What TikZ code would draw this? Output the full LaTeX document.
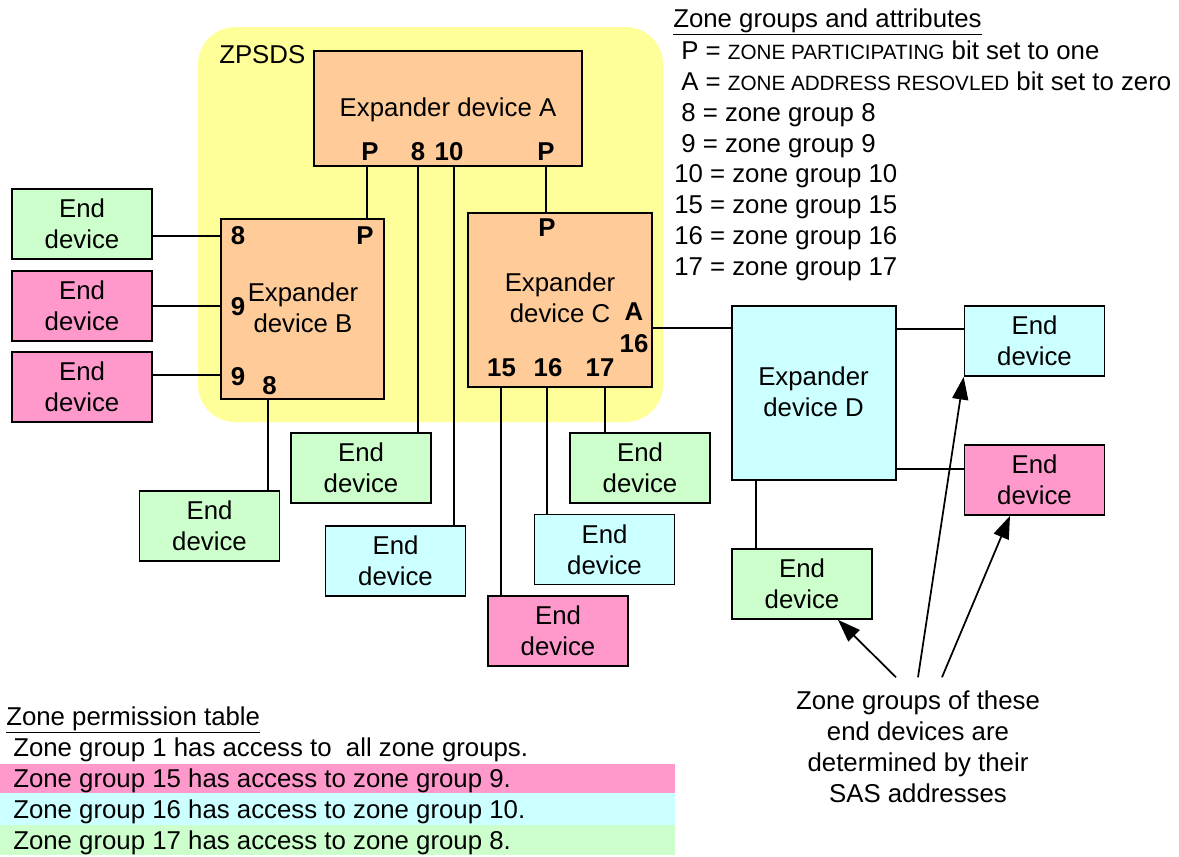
\documentclass[tikz,border=0pt]{standalone}
\usepackage{fontspec}
\setmainfont{Liberation Sans}
\usetikzlibrary{arrows.meta,calc}
\definecolor{yel}{HTML}{FFFF99}
\definecolor{ora}{HTML}{FFCC99}
\definecolor{grn}{HTML}{CCFFCC}
\definecolor{pnk}{HTML}{FF99CC}
\definecolor{cyn}{HTML}{CCFFFF}
\newcommand{\smc}[1]{{\fontsize{15.5}{18}\selectfont #1}}
\begin{document}
\begin{tikzpicture}[x=0.75pt,y=-0.75pt,
  font=\fontsize{19.35}{23.25}\selectfont,
  box/.style={draw=black, line width=1.3pt, inner sep=0pt, align=center},
  enddev/.style={box, minimum width=105pt, minimum height=52.5pt},
  expander/.style={box, fill=ora},
  plain/.style={inner sep=0pt, align=center},
  lbl/.style={inner sep=0pt, font=\fontsize{19.35}{23.25}\selectfont\bfseries},
  conn/.style={line width=1.3pt},
  txt/.style={inner sep=0pt, anchor=base west},
  callout/.style={line width=1.3pt, -{Triangle[length=17pt,width=12pt]}}]
\useasboundingbox (0,0) rectangle (1179,857);

% ZPSDS area
\fill[yel, rounded corners=28pt] (198,27) rectangle (663,422);
\node[inner sep=0pt, anchor=west] (zpsds) at (219,55) {ZPSDS};

% expanders
\node[expander, minimum width=201pt, minimum height=86.25pt] (A) at (448,108.5) {};
\node[plain] (Atxt) at (448,110) {Expander device A};
\node[expander, minimum width=122.25pt, minimum height=135pt] (B) at (302.5,309) {};
\node[plain] (Btxt) at (303,308) {Expander\\device B};
\node[expander, minimum width=138pt, minimum height=130.5pt] (C) at (560,300) {};
\node[plain] (Ctxt) at (560,298) {Expander\\device C};
\node[box, fill=cyn, minimum width=123pt, minimum height=130.5pt] (D) at (814,393) {};
\node[plain] (Dtxt) at (813.5,392) {Expander\\device D};

% port labels
\node[lbl] (aP1) at (370,152) {P};
\node[lbl] (a8) at (418,152) {8};
\node[lbl] (a10) at (449,152) {10};
\node[lbl] (aP2) at (546,152) {P};
\node[lbl] (b8) at (238,236) {8};
\node[lbl] (bP) at (365,236) {P};
\node[lbl] (b9a) at (238,307) {9};
\node[lbl] (b9b) at (238,377) {9};
\node[lbl] (b8b) at (269.5,386) {8};
\node[lbl] (cP) at (547,228) {P};
\node[lbl] (cA) at (634,312) {A};
\node[lbl] (c16r) at (634,343.5) {16};
\node[lbl] (c15) at (501.5,368) {15};
\node[lbl] (c16) at (548,368) {16};
\node[lbl] (c17) at (600,368) {17};

% end devices
\node[enddev, fill=grn] (eL1) at (82,224) {End\\device};
\node[enddev, fill=pnk] (eL2) at (82,306) {End\\device};
\node[enddev, fill=pnk] (eL3) at (82,387) {End\\device};
\node[enddev, fill=grn] (eB8) at (209.5,526) {End\\device};
\node[enddev, fill=grn] (eA8) at (361,468) {End\\device};
\node[enddev, fill=cyn] (eA10) at (395.5,561) {End\\device};
\node[enddev, fill=pnk] (eC15) at (558,631) {End\\device};
\node[enddev, fill=cyn] (eC16) at (604.5,549.5) {End\\device};
\node[enddev, fill=grn] (eC17) at (640,468) {End\\device};
\node[enddev, fill=cyn] (eD1) at (1034.5,341) {End\\device};
\node[enddev, fill=pnk] (eD2) at (1034.5,480) {End\\device};
\node[enddev, fill=grn] (eD3) at (802,584) {End\\device};

% guide coordinates
\coordinate (x367) at (367,0);
\coordinate (x418) at (418,0);
\coordinate (x454) at (454,0);
\coordinate (x546) at (546,0);
\coordinate (x268) at (268,0);
\coordinate (x501) at (501,0);
\coordinate (x547) at (547,0);
\coordinate (x605) at (605,0);
\coordinate (x756) at (756,0);
\coordinate (y236) at (0,236);
\coordinate (y306) at (0,306);
\coordinate (y375) at (0,375);
\coordinate (y328) at (0,328);
\coordinate (y329) at (0,329);
\coordinate (y469) at (0,469);

% connectors
\draw[conn] (A.south -| x367) -- (B.north -| x367);
\draw[conn] (A.south -| x418) -- (eA8.north -| x418);
\draw[conn] (A.south -| x454) -- (eA10.north -| x454);
\draw[conn] (A.south -| x546) -- (C.north -| x546);
\draw[conn] (B.west |- y236) -- (eL1.east |- y236);
\draw[conn] (B.west |- y306) -- (eL2.east |- y306);
\draw[conn] (B.west |- y375) -- (eL3.east |- y375);
\draw[conn] (B.south -| x268) -- (eB8.north -| x268);
\draw[conn] (C.south -| x501) -- (eC15.north -| x501);
\draw[conn] (C.south -| x547) -- (eC16.north -| x547);
\draw[conn] (C.south -| x605) -- (eC17.north -| x605);
\draw[conn] (C.east |- y328) -- (D.west |- y328);
\draw[conn] (D.east |- y329) -- (eD1.west |- y329);
\draw[conn] (D.east |- y469) -- (eD2.west |- y469);
\draw[conn] (D.south -| x756) -- (eD3.north -| x756);

% callout
\node[plain] (note) at (918,746.5) {Zone groups of these\\end devices are\\determined by their\\SAS addresses};
\draw[callout] ($(note.north)+(-22,-13)$) -- ($(eD3.south)+(36,0)$);
\draw[callout] ($(note.north)+(0,-13)$) -- (eD1.south west);
\draw[callout] ($(note.north)+(24,-13)$) -- ($(eD2.south)+(-24.5,0)$);

% legend
\node[txt] (lg0) at (673,27) {\underline{Zone groups and attributes}};
\node[txt] (lg1) at (681,59) {P = \smc{ZONE PARTICIPATING} bit set to one};
\node[txt] (lg2) at (681,90) {A = \smc{ZONE ADDRESS RESOVLED} bit set to zero};
\node[txt] (lg3) at (681,121) {8 = zone group 8};
\node[txt] (lg4) at (681,152) {9 = zone group 9};
\node[txt] (lg5) at (674,182) {10 = zone group 10};
\node[txt] (lg6) at (674,213) {15 = zone group 15};
\node[txt] (lg7) at (674,244) {16 = zone group 16};
\node[txt] (lg8) at (674,275) {17 = zone group 17};

% permission table
\fill[pnk] (0,764) rectangle (675,793);
\fill[cyn] (0,793) rectangle (675,824.5);
\fill[grn] (0,824.5) rectangle (675,855);
\node[txt] (pt0) at (6,725) {\underline{Zone permission table}};
\node[txt] (pt1) at (13,756) {Zone group 1 has access to \ all zone groups.};
\node[txt] (pt2) at (13,787) {Zone group 15 has access to zone group 9.};
\node[txt] (pt3) at (13,818) {Zone group 16 has access to zone group 10.};
\node[txt] (pt4) at (13,849) {Zone group 17 has access to zone group 8.};
\end{tikzpicture}
\end{document}
